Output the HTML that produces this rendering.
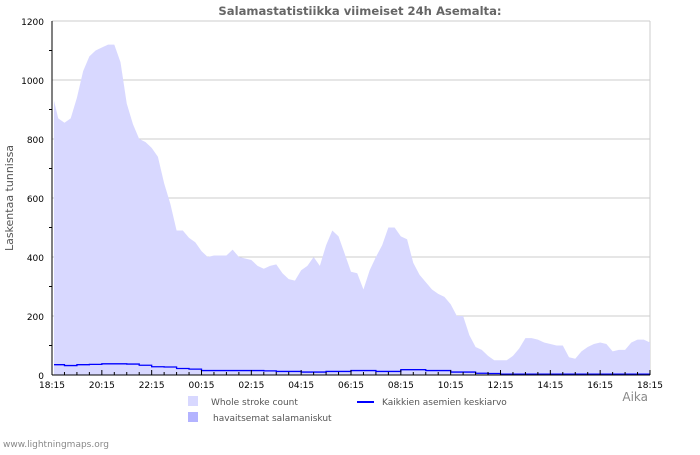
<!DOCTYPE html>
<html><head><meta charset="utf-8"><style>
body{margin:0;background:#fff;font-family:"Liberation Sans","DejaVu Sans",sans-serif}
svg text{font-family:"DejaVu Sans","Liberation Sans",sans-serif}
</style></head><body>
<svg id="chart" width="700" height="450" viewBox="0 0 700 450">
<text x="360" y="15" font-size="11.6" font-weight="bold" fill="#666" text-anchor="middle">Salamastatistiikka viimeiset 24h Asemalta:</text>
<text transform="translate(13,198) rotate(-90)" font-size="11" fill="#555" text-anchor="middle">Laskentaa tunnissa</text>
<text x="648" y="401" font-size="12" fill="#888" text-anchor="end">Aika</text>
<text x="3" y="447" font-size="9" fill="#888">www.lightningmaps.org</text>
<g id="grid"></g><g id="series"></g><g id="axes"></g>
<g>
<rect x="188" y="396" width="10" height="10" fill="#d8d8ff"/>
<text x="211" y="405" font-size="9" fill="#555">Whole stroke count</text>
<rect x="188" y="412" width="10" height="10" fill="#b3b3ff"/>
<text x="213" y="421" font-size="9" fill="#555">havaitsemat salamaniskut</text>
<line x1="357" y1="402" x2="374" y2="402" stroke="#00f" stroke-width="2"/>
<text x="382" y="405" font-size="9" fill="#555">Kaikkien asemien keskiarvo</text>
</g>
</svg>
<script>
const wholeCounts=[930,870,855,870,940,1030,1080,1100,1110,1120,1120,1060,920,850,800,790,770,740,650,580,490,490,465,450,420,400,405,405,405,425,400,395,390,370,360,370,375,345,325,320,355,370,400,370,440,490,470,410,350,345,290,355,400,440,500,500,470,460,380,340,315,290,275,265,240,200,200,135,95,85,65,50,50,50,65,90,125,125,120,110,105,100,100,60,55,80,95,105,110,105,80,85,85,110,120,120,110];
const averageCounts=[35,32,35,36,38,38,37,33,28,27,22,20,15,15,15,15,15,14,12,12,10,10,12,12,15,15,12,12,18,18,15,15,10,10,6,5,3,3,3,3,3,3,3,3,3,3,3,3,3];
const yTicks=[0,200,400,600,800,1000,1200];
const xTickLabels=["18:15","20:15","22:15","00:15","02:15","04:15","06:15","08:15","10:15","12:15","14:15","16:15","18:15"];
const NS="http://www.w3.org/2000/svg";
const X0=52,X1=650,Y0=375,Y1=21;
const yS=v=>Y0-(v/1200)*(Y0-Y1);
const xS=f=>X0+f*(X1-X0);
function mk(t,a,p){const e=document.createElementNS(NS,t);for(const k in a)e.setAttribute(k,a[k]);p.appendChild(e);return e;}
const grid=document.getElementById('grid'),ser=document.getElementById('series'),ax=document.getElementById('axes');
yTicks.forEach(v=>{
 const l=mk('line',{x1:X0,x2:X1,y1:yS(v),y2:yS(v),stroke:'#ccc'},grid);
 
 
 const t=mk('text',{x:44,y:yS(v)+4,'font-size':9,fill:'#000','text-anchor':'end'},ax);
 t.textContent=v;
 
 
});
for(let v=100;v<1200;v+=200){const m=mk('line',{x1:X0-3,x2:X0,y1:yS(v),y2:yS(v),stroke:'#000'},ax);
 
 }
mk('line',{x1:X1,x2:X1,y1:Y1,y2:Y0,stroke:'#ccc'},grid);
let n=wholeCounts.length,d=`M${xS(0)+2},${Y0}`;
wholeCounts.forEach((v,i)=>{d+=` L${Math.max(xS(0)+2,xS(i/(n-1)))},${yS(v)}`;});
d+=` L${xS(1)},${Y0} Z`;
const area=mk('path',{d:d,fill:'#d8d8ff'},ser);


let m=averageCounts.length,d2='';
averageCounts.forEach((v,i)=>{const xa=xS(i/(m-1)),xb=xS(Math.min(1,(i+1)/(m-1)));d2+=(i?' L':'M')+`${xa+2*(i==0)},${yS(v)} L${xb},${yS(v)}`;});
const line=mk('path',{d:d2,fill:'none',stroke:'#00f','stroke-width':1.3},ser);


mk('line',{x1:X0,x2:X0,y1:Y1,y2:Y0,stroke:'#000'},ax);
mk('line',{x1:X0,x2:X1,y1:Y0,y2:Y0,stroke:'#000'},ax);
for(let k=0;k<=48;k++){const x=xS(k/48);const major=k%4==0;
 const tk=mk('line',{x1:x,x2:x,y1:Y0,y2:Y0-(major?5:3),stroke:'#000'},ax);
 
 }
xTickLabels.forEach((s,i)=>{const t=mk('text',{x:xS(i/(xTickLabels.length-1)),y:388,'font-size':9,fill:'#000','text-anchor':'middle'},ax);
 t.textContent=s;
 
 });
</script>
</body></html>
